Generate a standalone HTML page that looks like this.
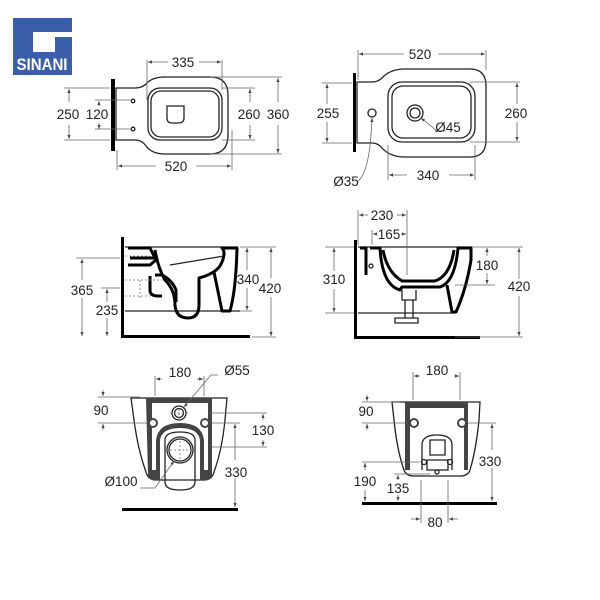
<!DOCTYPE html>
<html><head><meta charset="utf-8"><style>
html,body{margin:0;padding:0;background:#fff;}
svg{display:block}
text{font-family:"Liberation Sans",sans-serif;font-size:13.5px;fill:#222;text-anchor:middle}
.d{stroke:#666;stroke-width:0.8;fill:none}
.t{stroke:#000;stroke-width:3;fill:none;stroke-linejoin:round}
.o{stroke:#222;stroke-width:1.3;fill:none}
.dot{stroke:#777;stroke-width:0.8;fill:none;stroke-dasharray:2 2}
</style></head><body>
<svg width="600" height="600" viewBox="0 0 600 600">
<defs><marker id="a" viewBox="0 0 10 10" refX="10" refY="5" markerWidth="5" markerHeight="5" orient="auto-start-reverse"><path d="M0,1 L10,5 L0,9z" fill="#444"/></marker></defs>
<!-- logo -->
<rect x="13" y="18" width="59" height="57" fill="#3a5ea8"/>
<path d="M33,32 H72 V37 H55 V52 H33 Z" fill="#fff"/>
<text x="42" y="70" style="font-size:17px;font-weight:bold;fill:#fff;font-stretch:condensed" textLength="51" lengthAdjust="spacingAndGlyphs">SINANI</text>

<!-- TOP LEFT -->
<rect x="111" y="79" width="4" height="72" fill="#000"/>
<path class="o" d="M116,88 H135 Q142,88 146,84 Q152,77 165,77 H210 Q228,77 228,95 V135 Q228,154 210,154 H165 Q152,154 146,146 Q142,140 135,140 H116 Z"/>
<rect class="o" x="148" y="88" width="74" height="52" rx="12"/>
<rect class="o" x="151" y="91" width="68" height="46" rx="10"/>
<path class="o" d="M167,106 H184 V118 Q184,123 178,123 H172 Q167,123 167,118 Z"/>
<circle class="o" cx="133" cy="101" r="1.8"/><circle class="o" cx="133" cy="129" r="1.8"/>
<path class="d" d="M147,60 V100 M222,60 V90 M232,130 V170 M117,150 V170"/>
<line class="d" x1="148" y1="62" x2="168" y2="62" marker-start="url(#a)"/><line class="d" x1="199" y1="62" x2="221" y2="62" marker-end="url(#a)"/>
<text x="183" y="67">335</text>
<line class="d" x1="118" y1="166" x2="156" y2="166" marker-start="url(#a)"/><line class="d" x1="196" y1="166" x2="231" y2="166" marker-end="url(#a)"/>
<text x="176" y="171">520</text>
<path class="d" d="M64,88 H110 M64,140 H110 M95,100 H130 M95,129 H130 M222,88 H255 M222,140 H255 M210,77 H282 M210,154 H282"/>
<line class="d" x1="69" y1="102" x2="69" y2="89" marker-end="url(#a)"/><line class="d" x1="69" y1="125" x2="69" y2="139" marker-end="url(#a)"/>
<text x="68" y="119">250</text>
<line class="d" x1="99" y1="106" x2="99" y2="101" marker-end="url(#a)"/><line class="d" x1="99" y1="123" x2="99" y2="129" marker-end="url(#a)"/>
<text x="97" y="119">120</text>
<line class="d" x1="250" y1="102" x2="250" y2="89" marker-end="url(#a)"/><line class="d" x1="250" y1="125" x2="250" y2="139" marker-end="url(#a)"/>
<text x="249" y="119">260</text>
<line class="d" x1="278" y1="102" x2="278" y2="78" marker-end="url(#a)"/><line class="d" x1="278" y1="125" x2="278" y2="153" marker-end="url(#a)"/>
<text x="278" y="119">360</text>

<!-- TOP RIGHT -->
<rect x="353" y="73" width="3" height="79" fill="#000"/>
<path class="o" d="M357,82 H372 Q378,82 382,78 Q390,69 405,69 H470 Q486,69 486,86 V140 Q486,157 470,157 H405 Q390,157 382,148 Q378,143 372,143 H357 Z"/>
<rect class="o" x="388" y="82" width="87" height="60" rx="14"/>
<rect class="o" x="392" y="86" width="79" height="52" rx="11"/>
<circle class="o" cx="415" cy="113" r="8"/><circle class="o" cx="415" cy="113" r="5"/>
<circle class="o" cx="372" cy="113" r="4"/>
<path class="d" d="M358,50 V80 M486,50 V70 M388,145 V180 M475,145 V180"/>
<line class="d" x1="359" y1="54" x2="404" y2="54" marker-start="url(#a)"/><line class="d" x1="438" y1="54" x2="485" y2="54" marker-end="url(#a)"/>
<text x="420" y="59">520</text>
<line class="d" x1="389" y1="175" x2="407" y2="175" marker-start="url(#a)"/><line class="d" x1="449" y1="175" x2="474" y2="175" marker-end="url(#a)"/>
<text x="428" y="180">340</text>
<path class="d" d="M322,83 H352 M322,143 H352 M470,82 H520 M470,142 H520"/>
<line class="d" x1="327" y1="104" x2="327" y2="84" marker-end="url(#a)"/><line class="d" x1="327" y1="122" x2="327" y2="142" marker-end="url(#a)"/>
<text x="328" y="118">255</text>
<line class="d" x1="517" y1="104" x2="517" y2="83" marker-end="url(#a)"/><line class="d" x1="517" y1="122" x2="517" y2="141" marker-end="url(#a)"/>
<text x="516" y="118">260</text>
<path class="d" d="M437,131 L421,118" marker-end="url(#a)"/><path class="d" d="M435,131 H446"/>
<text x="448" y="132">Ø45</text>
<path class="d" d="M358,181 Q370,172 372,118" marker-end="url(#a)"/>
<text x="346" y="186">Ø35</text>

<!-- MIDDLE LEFT -->
<rect x="121" y="237" width="3" height="101" fill="#000"/>
<rect x="121" y="335" width="129" height="3" fill="#000"/>
<path class="o" d="M125,247 H238 M125,311 H240"/>
<path class="t" d="M128,248 H150 L155,258 H130 M128,265 H150 L156,260"/>
<path class="t" d="M155,250 Q158,268 165,280 Q175,290 175,305 Q176,318 188,318 Q199,318 199,305 L199,278 Q218,273 222,262 Q226,252 222,248 H237 Q236,290 230,311 H222 L214,272"/>
<path class="t" d="M155,275 H162 Q172,280 176,290 L176,302"/>
<path class="t" d="M150,276 V290 Q150,296 158,296 H162"/>
<path class="o" d="M170,265 L224,256"/>
<path class="dot" d="M125,256 H150 M125,280 H165 M125,296 H150 M140,280 V300"/>
<path class="d" d="M76,258 H120 M101,288 H120 M240,247 H276 M240,311 H252 M252,337 H276"/>
<line class="d" x1="82" y1="280" x2="82" y2="259" marker-end="url(#a)"/><line class="d" x1="82" y1="298" x2="82" y2="336" marker-end="url(#a)"/>
<text x="82" y="295">365</text>
<line class="d" x1="107" y1="302" x2="107" y2="289" marker-end="url(#a)"/><line class="d" x1="107" y1="318" x2="107" y2="336" marker-end="url(#a)"/>
<text x="107" y="315">235</text>
<line class="d" x1="247" y1="270" x2="247" y2="248" marker-end="url(#a)"/><line class="d" x1="247" y1="288" x2="247" y2="310" marker-end="url(#a)"/>
<text x="248" y="284">340</text>
<line class="d" x1="271" y1="278" x2="271" y2="248" marker-end="url(#a)"/><line class="d" x1="271" y1="297" x2="271" y2="336" marker-end="url(#a)"/>
<text x="270" y="293">420</text>

<!-- MIDDLE RIGHT -->
<rect x="354" y="240" width="3" height="99" fill="#000"/>
<rect x="354" y="336" width="126" height="3" fill="#000"/>
<path class="o" d="M358,247 H472 M358,313 H455"/>
<path class="t" d="M360,248 H366 V275 M370,248 H380 Q382,285 400,290 L402,287 H440 Q455,282 458,248 H471 V260 Q466,290 456,312 H452 L447,285"/>
<path class="t" d="M383,250 Q387,272 402,281 H435 Q450,276 454,250"/>
<path class="o" d="M402,290 V300 H416 V290 M405,300 V318 H413 V300 M395,318 H418 V323 H395Z"/>
<circle class="o" cx="371" cy="266" r="2"/>
<path class="d" d="M358,210 V245 M407,210 V275 M372,230 V245 M480,247 H492 M455,285 H495 M472,247 H523 M455,337 H523 M325,247 H354 M325,313 H354"/>
<line class="d" x1="359" y1="215" x2="368" y2="215" marker-start="url(#a)"/><line class="d" x1="397" y1="215" x2="406" y2="215" marker-end="url(#a)"/>
<text x="382" y="220">230</text>
<line class="d" x1="373" y1="234" x2="376" y2="234" marker-start="url(#a)"/><line class="d" x1="401" y1="234" x2="406" y2="234" marker-end="url(#a)"/>
<text x="389" y="239">165</text>
<line class="d" x1="334" y1="271" x2="334" y2="248" marker-end="url(#a)"/><line class="d" x1="334" y1="289" x2="334" y2="312" marker-end="url(#a)"/>
<text x="334" y="284">310</text>
<line class="d" x1="487" y1="256" x2="487" y2="248" marker-end="url(#a)"/><line class="d" x1="487" y1="273" x2="487" y2="284" marker-end="url(#a)"/>
<text x="487" y="270">180</text>
<line class="d" x1="519" y1="279" x2="519" y2="248" marker-end="url(#a)"/><line class="d" x1="519" y1="296" x2="519" y2="336" marker-end="url(#a)"/>
<text x="519" y="291">420</text>

<!-- BOTTOM LEFT -->
<path class="o" d="M131,398 H227 L225,420 Q222,450 214,472 Q212,480 204,480 H156 Q148,480 146,472 Q138,450 134,420 Z"/>
<path d="M146,398 H212 V474 Q212,480 206,480 H200 V440 Q198,428 180,428 Q162,428 160,440 V480 H154 Q148,480 148,474 Z" fill="#444"/>
<path d="M152,403 H208 V470 H204 V440 Q202,423 180,423 Q158,423 156,440 V470 H152 Z" fill="#fff"/>
<path class="o" d="M165,440 Q165,432 180,432 Q195,432 195,440 V482 Q195,490 180,490 Q165,490 165,482 Z"/>
<circle cx="153" cy="423" r="5" fill="#444"/><circle cx="153" cy="423" r="3" fill="#fff"/>
<circle cx="205" cy="423" r="5" fill="#444"/><circle cx="205" cy="423" r="3" fill="#fff"/>
<circle class="o" cx="179" cy="413" r="7"/><circle class="o" cx="179" cy="413" r="4.5"/>
<circle class="o" cx="180" cy="450" r="13"/><circle class="o" cx="180" cy="450" r="11"/>
<path class="dot" d="M166,450 H194 M180,437 V463 M170,413 H188 M179,405 V421"/>
<rect x="122" y="508" width="116" height="3" fill="#000"/>
<path class="d" d="M155,376 V396 M204,376 V396 M98,397 H140 M98,423 H148 M210,413 H267 M210,447 H267 M210,423 H240"/>
<line class="d" x1="156" y1="379" x2="162" y2="379" marker-start="url(#a)"/><line class="d" x1="197" y1="379" x2="203" y2="379" marker-end="url(#a)"/>
<text x="180" y="377">180</text>
<line class="d" x1="103" y1="390" x2="103" y2="396" marker-end="url(#a)"/><line class="d" x1="103" y1="430" x2="103" y2="424" marker-end="url(#a)"/>
<text x="101" y="415">90</text>
<line class="d" x1="263" y1="420" x2="263" y2="414" marker-end="url(#a)"/><line class="d" x1="263" y1="440" x2="263" y2="446" marker-end="url(#a)"/>
<text x="263" y="435">130</text>
<line class="d" x1="235" y1="460" x2="235" y2="424" marker-end="url(#a)"/><line class="d" x1="235" y1="478" x2="235" y2="507" marker-end="url(#a)"/>
<text x="236" y="477">330</text>
<path class="d" d="M218,375 H211 L184,407" marker-end="url(#a)"/>
<text x="237" y="375">Ø55</text>
<path class="d" d="M140,488 H155 L174,461" marker-end="url(#a)"/>
<text x="121" y="486">Ø100</text>

<!-- BOTTOM RIGHT -->
<path class="o" d="M392,402 H480 L479,420 Q476,450 470,470 Q468,476 460,476 H414 Q406,476 404,470 Q397,450 394,420 Z"/>
<path d="M405,402 H468 V470 H464 V408 H410 V470 H405 Z" fill="#444"/>
<path class="o" d="M422,470 V445 Q422,435 437,435 Q452,435 452,445 V470"/>
<path class="o" d="M430,440 H445 V455 H430 Z M427,460 H448 V470 H427 Z"/>
<circle cx="414" cy="423" r="5" fill="#444"/><circle cx="414" cy="423" r="3" fill="#fff"/>
<circle cx="462" cy="423" r="5" fill="#444"/><circle cx="462" cy="423" r="3" fill="#fff"/>
<circle class="o" cx="424" cy="462" r="2.5"/><circle class="o" cx="450" cy="462" r="2.5"/>
<circle class="o" cx="437" cy="472" r="2"/>
<rect x="362" y="502" width="135" height="3" fill="#000"/>
<path class="d" d="M413,372 V400 M460,372 V400 M362,402 H400 M362,423 H408 M468,423 H496 M362,462 H420 M394,474 H430 M421,480 V523 M448,480 V523"/>
<line class="d" x1="414" y1="376" x2="420" y2="376" marker-start="url(#a)"/><line class="d" x1="454" y1="376" x2="459" y2="376" marker-end="url(#a)"/>
<text x="437" y="375">180</text>
<line class="d" x1="367" y1="395" x2="367" y2="401" marker-end="url(#a)"/><line class="d" x1="367" y1="430" x2="367" y2="424" marker-end="url(#a)"/>
<text x="366" y="416">90</text>
<line class="d" x1="492" y1="450" x2="492" y2="424" marker-end="url(#a)"/><line class="d" x1="492" y1="468" x2="492" y2="501" marker-end="url(#a)"/>
<text x="490" y="466">330</text>
<line class="d" x1="365" y1="470" x2="365" y2="463" marker-end="url(#a)"/><line class="d" x1="365" y1="490" x2="365" y2="501" marker-end="url(#a)"/>
<text x="365" y="486">190</text>
<line class="d" x1="398" y1="480" x2="398" y2="475" marker-end="url(#a)"/><line class="d" x1="398" y1="495" x2="398" y2="501" marker-end="url(#a)"/>
<text x="398" y="493">135</text>
<line class="d" x1="411" y1="519" x2="420" y2="519" marker-end="url(#a)"/><line class="d" x1="458" y1="519" x2="449" y2="519" marker-end="url(#a)"/>
<text x="435" y="527">80</text>
</svg>
</body></html>
